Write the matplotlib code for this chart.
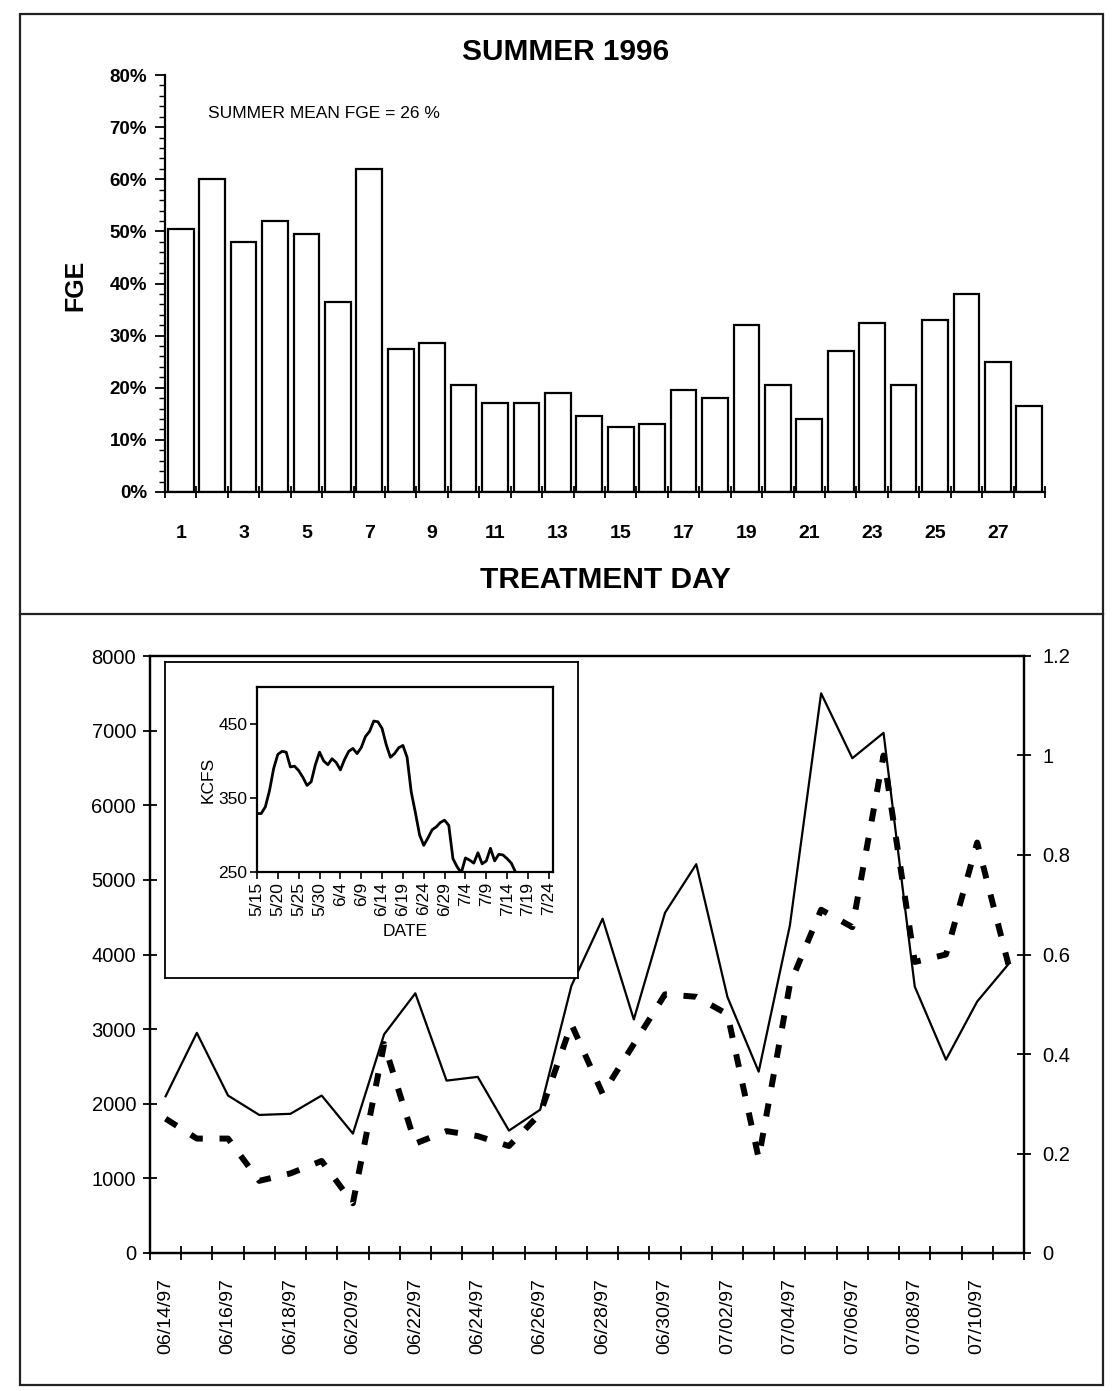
import numpy as np
import matplotlib
matplotlib.use("Agg")
import matplotlib.pyplot as plt
from matplotlib.ticker import MultipleLocator, FixedLocator, FuncFormatter
from matplotlib.patches import Rectangle
from matplotlib.lines import Line2D

plt.rcParams['font.family'] = ['Liberation Sans', 'DejaVu Sans']

# ---------------- data ----------------
# Top chart: fish guidance efficiency by treatment day (percent)
treatment_days = list(range(1, 29))
fge_pct = [50.5, 60, 48, 52, 49.5, 36.5, 62, 27.5, 28.5, 20.5, 17, 17, 19, 14.5,
           12.5, 13, 19.5, 18, 32, 20.5, 14, 27, 32.5, 20.5, 33, 38, 25, 16.5]
top_title = "SUMMER 1996"
mean_note = "SUMMER MEAN FGE = 26 %"

# Bottom chart: daily series (solid on left axis, dashed on right axis)
dates = ['06/14/97', '06/15/97', '06/16/97', '06/17/97', '06/18/97', '06/19/97',
         '06/20/97', '06/21/97', '06/22/97', '06/23/97', '06/24/97', '06/25/97',
         '06/26/97', '06/27/97', '06/28/97', '06/29/97', '06/30/97', '07/01/97',
         '07/02/97', '07/03/97', '07/04/97', '07/05/97', '07/06/97', '07/07/97',
         '07/08/97', '07/09/97', '07/10/97', '07/11/97']
solid_series = [2100, 2950, 2110, 1850, 1865, 2110, 1600, 2930, 3480, 2310,
                2360, 1640, 1920, 3580, 4480, 3130, 4560, 5210, 3430, 2430,
                4390, 7500, 6630, 6970, 3570, 2590, 3370, 3870]
dashed_series = [0.27, 0.23, 0.23, 0.145, 0.16, 0.185, 0.10, 0.42, 0.22, 0.245,
                 0.235, 0.215, 0.28, 0.46, 0.32, 0.42, 0.52, 0.515, 0.48, 0.19,
                 0.54, 0.69, 0.655, 1.0, 0.585, 0.60, 0.825, 0.58]

# Inset: river flow (KCFS), daily from 5/15
inset_flow = [329, 329, 338, 360, 390, 409, 413, 412, 392, 393, 387, 378, 367, 372,
              395, 412, 400, 395, 403, 398, 388, 402, 413, 417, 410, 418, 433, 440,
              454, 453, 444, 422, 405, 410, 418, 421, 405, 358, 330, 300, 286, 296,
              307, 311, 317, 320, 313, 268, 257, 249, 269, 266, 262, 276, 261, 265,
              282, 265, 274, 273, 268, 262, 250]
inset_tick_labels = ['5/15', '5/20', '5/25', '5/30', '6/4', '6/9', '6/14', '6/19',
                     '6/24', '6/29', '7/4', '7/9', '7/14', '7/19', '7/24']

# ---------------- figure ----------------
W, H = 1115, 1391
fig = plt.figure(figsize=(W / 100, H / 100), dpi=100)

def fx(px):
    return px / W

def fy(py):
    return 1 - py / H

# outer border and divider
fig.add_artist(Rectangle((fx(20), fy(1385)), fx(1103) - fx(20), fy(14) - fy(1385),
                         transform=fig.transFigure, fill=False, lw=1.6, color='#222222'))
fig.add_artist(Line2D([fx(20), fx(1103)], [fy(614), fy(614)],
                      transform=fig.transFigure, lw=1.6, color='#222222'))

# ---------------- top chart ----------------
ax1 = fig.add_axes([fx(165), fy(492), fx(1045) - fx(165), fy(75) - fy(492)])
xb = np.arange(len(fge_pct))
ax1.bar(xb, np.array(fge_pct) / 100.0, width=0.82, color='white',
        edgecolor='black', linewidth=1.6)
ax1.set_xlim(-0.5, len(fge_pct) - 0.5)
ax1.set_ylim(0, 0.8)
ax1.yaxis.set_major_locator(MultipleLocator(0.1))
ax1.yaxis.set_minor_locator(MultipleLocator(0.02))
ax1.yaxis.set_major_formatter(FuncFormatter(lambda v, p: f"{v * 100:.0f}%"))
ax1.set_xticks(xb[::2])
ax1.set_xticklabels([str(d) for d in treatment_days[::2]])
ax1.xaxis.set_minor_locator(FixedLocator(np.arange(-0.5, len(fge_pct), 1.0)))
ax1.tick_params(axis='x', which='major', length=0, pad=24, labelsize=14)
ax1.tick_params(axis='x', which='minor', length=9, direction='inout', width=1.3)
ax1.tick_params(axis='y', which='major', length=7, direction='out', width=1.3,
                labelsize=13.5, pad=6)
ax1.tick_params(axis='y', which='minor', length=4, direction='out', width=1.0)
for lab in ax1.get_xticklabels() + ax1.get_yticklabels():
    lab.set_fontweight('bold')
for s in ['top', 'right']:
    ax1.spines[s].set_visible(False)
for s in ['left', 'bottom']:
    ax1.spines[s].set_linewidth(1.6)

fig.text(fx(566), fy(52), top_title, ha='center', va='center',
         fontsize=21.5, fontweight='bold')
fig.text(fx(208), fy(113), mean_note, ha='left', va='center', fontsize=12.5)
fig.text(fx(75), fy(285), 'FGE', ha='center', va='center', rotation=90,
         fontsize=18, fontweight='bold')
fig.text(fx(605), fy(580), 'TREATMENT DAY', ha='center', va='center',
         fontsize=21.5, fontweight='bold')

# ---------------- bottom chart ----------------
ax2 = fig.add_axes([fx(150), fy(1253), fx(1024) - fx(150), fy(656) - fy(1253)])
xd = np.arange(len(dates))
ax2.plot(xd, solid_series, color='black', lw=1.6, zorder=3)
ax2.set_xlim(-0.5, len(dates) - 0.5)
ax2.set_ylim(0, 8000)
ax2.yaxis.set_major_locator(MultipleLocator(1000))
ax2.set_xticks(xd[::2])
ax2.set_xticklabels(dates[::2], rotation=90)
ax2.xaxis.set_minor_locator(FixedLocator(np.arange(-0.5, len(dates), 1.0)))
ax2.tick_params(axis='x', which='major', length=0, pad=18, labelsize=14)
ax2.tick_params(axis='x', which='minor', length=10, direction='inout', width=1.3)
ax2.tick_params(axis='y', which='major', length=10, direction='inout', width=1.3,
                labelsize=14.5, pad=5)
for s in ax2.spines.values():
    s.set_linewidth(1.6)

ax2r = ax2.twinx()
ax2r.plot(xd, dashed_series, color='black', lw=4.3, linestyle=(0, (2.2, 2.8)),
          solid_capstyle='butt', dash_capstyle='butt')
ax2r.set_ylim(0, 1.2)
ax2r.yaxis.set_major_locator(MultipleLocator(0.2))
ax2r.yaxis.set_major_formatter(FuncFormatter(lambda v, p: f"{round(v, 1):g}"))
ax2r.tick_params(axis='y', which='major', length=10, direction='inout', width=1.3,
                 labelsize=14.5, pad=8)
for s in ax2r.spines.values():
    s.set_linewidth(1.6)

# inset frame (white box)
box = fig.add_axes([fx(165), fy(978), fx(578) - fx(165), fy(662) - fy(978)])
box.set_xticks([])
box.set_yticks([])
for s in box.spines.values():
    s.set_linewidth(1.3)
box.set_zorder(5)

# inset chart
axi = fig.add_axes([fx(257), fy(872), fx(553) - fx(257), fy(687) - fy(872)])
axi.set_zorder(6)
axi.patch.set_alpha(0)
xi = np.arange(len(inset_flow))
axi.plot(xi, inset_flow, color='black', lw=2.0, clip_on=True)
axi.set_xlim(0, 71)
axi.set_ylim(250, 500)
axi.set_yticks([250, 350, 450])
axi.set_xticks(np.arange(0, 71, 5))
axi.set_xticklabels(inset_tick_labels, rotation=90)
axi.tick_params(axis='both', length=5, direction='out', width=1.2, labelsize=12.5, pad=2)
axi.set_xlabel('DATE', fontsize=12.5, labelpad=6)
axi.set_ylabel('KCFS', fontsize=12.5, labelpad=2)
for s in axi.spines.values():
    s.set_linewidth(1.6)

fig.savefig('out.png', dpi=100)
